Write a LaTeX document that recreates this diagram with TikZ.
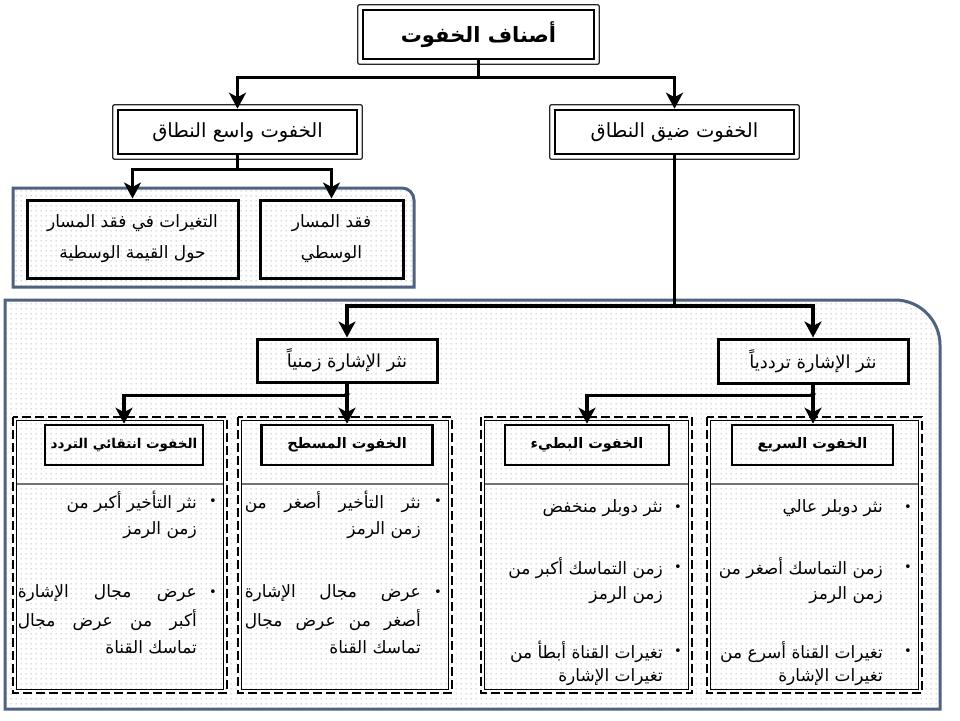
\documentclass[tikz,border=0pt]{standalone}
\usepackage{fontspec}
\usetikzlibrary{arrows.meta,patterns.meta,calc}
\TeXXeTstate=1
\newfontfamily\arabicfont[Script=Arabic]{DejaVu Sans}
\newcommand\artext[1]{{\arabicfont #1}}
\newcommand\arjust[2]{\makebox[#1][s]{\arabicfont #2}}
\definecolor{panelblue}{RGB}{79,98,128}
\tikzdeclarepattern{
  name=finedots,
  type=uncolored,
  bounding box={(0pt,0pt) and (4.6pt,4.6pt)},
  tile size={(4.6pt,4.6pt)},
  code={\pgfpathcircle{\pgfpoint{2.3pt}{2.3pt}}{0.65pt}\pgfusepath{fill}}
}
\tikzset{
  conn/.style={line width=3.6pt, -{Stealth[length=16pt,width=17pt,inset=4.5pt]}},
  dbox/.style={draw, line width=2.6pt, inner sep=0pt, fill=white},
  sbox/.style={draw, line width=3pt, inner sep=0pt},
  tbox/.style={draw, line width=2.6pt, inner sep=0pt, font=\fontsize{14.5}{16}\selectfont\bfseries},
  txtline/.style={inner sep=0pt, anchor=east, font=\fontsize{17}{19}\selectfont},
  bul/.style={inner sep=0pt, font=\fontsize{13}{15}\selectfont},
  coldash/.style={draw, line width=2.8pt, dash pattern=on 9pt off 4pt},
  colthin/.style={draw, line width=0.7pt},
  sepline/.style={draw=black!55, line width=1.4pt},
  panel/.style={draw=panelblue, line width=3pt, preaction={fill=white}, pattern={finedots}, pattern color=black!40},
  outerframe/.style={draw=black!85, line width=1.3pt, rounded corners=2pt},
}
\begin{document}
\begin{tikzpicture}[x=1pt,y=-1pt]
\useasboundingbox (0,0) rectangle (960,720);
\fill[white] (0,0) rectangle (960,720);

% panels
\path[panel] (13,287) -- (13,188) -- (402,188) .. controls (408.6,188) and (414,193.4) .. (414,200) -- (414,287) -- cycle;
\path[panel] (5,709) -- (5,300) -- (895,300) .. controls (919.8,300) and (940,320.2) .. (940,345) -- (940,709) -- cycle;

% columns
\draw[coldash] (13,417) rectangle (227,693);
\draw[colthin] (16.5,420.5) rectangle (223.5,689.5);
\draw[coldash] (238,417) rectangle (452,693);
\draw[colthin] (241.5,420.5) rectangle (448.5,689.5);
\draw[coldash] (481,417) rectangle (692,693);
\draw[colthin] (484.5,420.5) rectangle (688.5,689.5);
\draw[coldash] (707,417) rectangle (922,693);
\draw[colthin] (710.5,420.5) rectangle (918.5,689.5);
\draw[sepline] (17,484) -- (223,484);
\draw[sepline] (242,484) -- (448,484);
\draw[sepline] (485,484) -- (688,484);
\draw[sepline] (711,484) -- (918,484);

% top level boxes
\node[dbox, minimum width=231pt, minimum height=49pt, font=\fontsize{21}{23}\selectfont\bfseries] (top) at (478.5,34.5) {\artext{\beginR أصناف الخفوت\endR}};
\draw[outerframe] ($(top.north west)+(-4,-4)$) rectangle ($(top.south east)+(4,4)$);
\node[dbox, minimum width=239pt, minimum height=44pt, font=\fontsize{19.5}{21}\selectfont] (wide) at (237.5,132) {\artext{\beginR الخفوت واسع النطاق\endR}};
\draw[outerframe] ($(wide.north west)+(-4,-4)$) rectangle ($(wide.south east)+(4,4)$);
\node[dbox, minimum width=239pt, minimum height=44pt, font=\fontsize{19.5}{21}\selectfont] (narrow) at (674.5,132) {\artext{\beginR الخفوت ضيق النطاق\endR}};
\draw[outerframe] ($(narrow.north west)+(-4,-4)$) rectangle ($(narrow.south east)+(4,4)$);

% panel 1 boxes
\node[sbox, minimum width=211pt, minimum height=78pt, font=\fontsize{17}{19}\selectfont, align=center] (varloss) at (132.5,239) {\artext{\beginR التغيرات في فقد المسار\endR}\\[12pt]\artext{\beginR حول القيمة الوسطية\endR}};
\node[sbox, minimum width=143pt, minimum height=78pt, font=\fontsize{17}{19}\selectfont, align=center] (medloss) at (331.5,239) {\artext{\beginR فقد المسار\endR}\\[12pt]\artext{\beginR الوسطي\endR}};

% spread boxes
\node[sbox, minimum width=180pt, minimum height=43pt, font=\fontsize{18}{20}\selectfont] (timesp) at (347,360.5) {\artext{\beginR نثر الإشارة زمنياً\endR}};
\node[sbox, minimum width=190pt, minimum height=44pt, font=\fontsize{18}{20}\selectfont] (freqsp) at (813,361) {\artext{\beginR نثر الإشارة ترددياً\endR}};

% column titles
\node[tbox, minimum width=158pt, minimum height=40pt, font=\fontsize{13.5}{15}\selectfont\bfseries] (t1) at (124,445) {\artext{\beginR الخفوت انتقائي التردد\endR}};
\node[tbox, minimum width=171pt, minimum height=40pt] (t2) at (347,445) {\artext{\beginR الخفوت المسطح\endR}};
\node[tbox, minimum width=164pt, minimum height=40pt] (t3) at (587,445) {\artext{\beginR الخفوت البطيء\endR}};
\node[tbox, minimum width=161pt, minimum height=40pt] (t4) at (812.5,445) {\artext{\beginR الخفوت السريع\endR}};

% connectors
\draw[conn] (top.south) -- ++(0,17) -| (wide.north);
\draw[conn] (top.south) -- ++(0,17) -| (narrow.north);
\draw[conn] (wide.south) -- ++(0,14) -| (varloss.north);
\draw[conn] (wide.south) -- ++(0,14) -| (medloss.north);
\draw[conn] (narrow.south) -- (674.5,306) -| (timesp.north);
\draw[conn] (narrow.south) -- (674.5,306) -| (freqsp.north);
\draw[conn] (timesp.south) -- ++(0,12) -| (t1.north);
\draw[conn] (timesp.south) -- (timesp.south |- t2.north);
\draw[conn] (freqsp.south) -- ++(0,11) -| (t3.north);
\draw[conn] (freqsp.south) -- (freqsp.south |- t4.north);
\fill (347,394) circle (2.6pt);
\fill (813,394) circle (2.6pt);

% column 1 text
\node[bul] (b1a) at (213,502) {\artext{•}};
\node[txtline] (c1l1) at (197,502) {\artext{\beginR نثر التأخير أكبر من\endR}};
\node[txtline] (c1l2) at (197,530) {\artext{\beginR زمن الرمز\endR}};
\node[bul] (b1b) at (213,593) {\artext{•}};
\node[txtline] (c1l3) at (197,593) {\arjust{179pt}{\beginR عرض مجال الإشارة\endR}};
\node[txtline] (c1l4) at (197,620) {\arjust{179pt}{\beginR أكبر من عرض مجال\endR}};
\node[txtline] (c1l5) at (197,647) {\artext{\beginR تماسك القناة\endR}};

% column 2 text
\node[bul] (b2a) at (438,502) {\artext{•}};
\node[txtline] (c2l1) at (421,502) {\arjust{176pt}{\beginR نثر التأخير أصغر من\endR}};
\node[txtline] (c2l2) at (421,530) {\artext{\beginR زمن الرمز\endR}};
\node[bul] (b2b) at (438,593) {\artext{•}};
\node[txtline] (c2l3) at (421,593) {\arjust{176pt}{\beginR عرض مجال الإشارة\endR}};
\node[txtline] (c2l4) at (421,620) {\arjust{176pt}{\beginR أصغر من عرض مجال\endR}};
\node[txtline] (c2l5) at (421,647) {\artext{\beginR تماسك القناة\endR}};

% column 3 text
\node[bul] (b3a) at (678,508) {\artext{•}};
\node[txtline] (c3l1) at (663,508) {\artext{\beginR نثر دوبلر منخفض\endR}};
\node[bul] (b3b) at (678,568) {\artext{•}};
\node[txtline] (c3l2) at (663,568) {\artext{\beginR زمن التماسك أكبر من\endR}};
\node[txtline] (c3l3) at (663,595) {\artext{\beginR زمن الرمز\endR}};
\node[bul] (b3c) at (678,652) {\artext{•}};
\node[txtline] (c3l4) at (663,652) {\artext{\beginR تغيرات القناة أبطأ من\endR}};
\node[txtline] (c3l5) at (663,677) {\artext{\beginR تغيرات الإشارة\endR}};

% column 4 text
\node[bul] (b4a) at (908,508) {\artext{•}};
\node[txtline] (c4l1) at (883,508) {\artext{\beginR نثر دوبلر عالي\endR}};
\node[bul] (b4b) at (908,568) {\artext{•}};
\node[txtline] (c4l2) at (883,568) {\artext{\beginR زمن التماسك أصغر من\endR}};
\node[txtline] (c4l3) at (883,595) {\artext{\beginR زمن الرمز\endR}};
\node[bul] (b4c) at (908,652) {\artext{•}};
\node[txtline] (c4l4) at (883,652) {\artext{\beginR تغيرات القناة أسرع من\endR}};
\node[txtline] (c4l5) at (883,677) {\artext{\beginR تغيرات الإشارة\endR}};
\end{tikzpicture}
\end{document}
